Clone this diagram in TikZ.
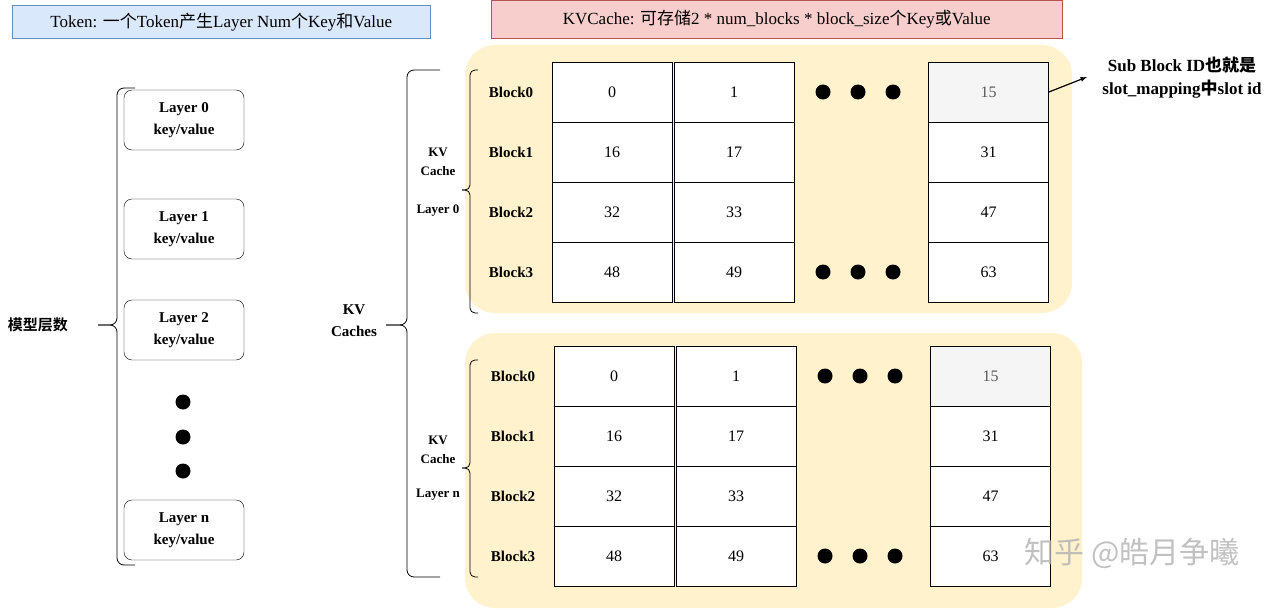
\documentclass[tikz,border=0pt]{standalone}
\usepackage{fontspec}
\setmainfont{Liberation Serif}
\newfontfamily\cjk{Noto Sans CJK SC}
\newfontfamily\cjkb{Noto Sans CJK SC Bold}
\begin{document}
\begin{tikzpicture}[x=1pt,y=-1pt,
 cell/.style={draw,thick,minimum width=120pt,minimum height=60pt,inner sep=0,font=\fontsize{16}{16}\selectfont},
 blab/.style={font=\bfseries\fontsize{15}{15}\selectfont},
 lay/.style={draw,rounded corners=8,minimum width=120pt,minimum height=60pt,align=center,font=\bfseries\fontsize{15}{22}\selectfont},
 dot/.style={circle,fill,inner sep=0,minimum size=15pt},
 br/.style={line width=0.8pt,rounded corners=7},
 lbl/.style={align=center,font=\bfseries\fontsize{15}{22}\selectfont}]
\useasboundingbox (0,0) rectangle (1288,610);
\definecolor{pan}{HTML}{FFF2CC}
\definecolor{bfill}{HTML}{DAE8FC}\definecolor{bline}{HTML}{6C8EBF}
\definecolor{rfill}{HTML}{F8CECC}\definecolor{rline}{HTML}{B85450}
% top boxes
\node[draw=bline,fill=bfill,minimum width=418pt,minimum height=33pt,anchor=north west,inner sep=0,font=\fontsize{17}{17}\selectfont] (tok) at (12,5) {Token: {\cjk 一个}Token{\cjk 产生}Layer Num{\cjk 个}Key{\cjk 和}Value};
\node[draw=rline,fill=rfill,minimum width=571pt,minimum height=38pt,anchor=north west,inner sep=0,font=\fontsize{17}{17}\selectfont] (kvc) at (491,0) {KVCache: {\cjk 可存储}2 * num\_blocks * block\_size{\cjk 个}Key{\cjk 或}Value};
% left brace
\draw[br] (135,88) -- (117,88) -- (117,325) -- (98,325);
\draw[br] (98,325) -- (117,325) -- (117,565) -- (135,565);
\node[font=\cjkb\fontsize{15}{15}\selectfont] (mx) at (38,325) {模型层数};
\node[lay] (l0) at (184,120) {Layer 0\\key/value};
\node[lay] (l1) at (184,229) {Layer 1\\key/value};
\node[lay] (l2) at (184,330) {Layer 2\\key/value};
\node[lay] (ln) at (184,530) {Layer n\\key/value};
\node[dot] (d1) at (183,402) {};
\node[dot] (d2) at (183,437) {};
\node[dot] (d3) at (183,471) {};
% middle brace
\node[lbl] (kvs) at (354,321) {KV\\Caches};
\draw[br] (440,70) -- (407,70) -- (407,325) -- (386,325);
\draw[br] (386,325) -- (407,325) -- (407,577) -- (440,577);
% panels
\fill[pan,rounded corners=30] (465,45) rectangle (1072,313);
\fill[pan,rounded corners=30] (465,333) rectangle (1082,608);
% small braces
\draw[br,rounded corners=5] (478,70) -- (470,70) -- (470,190) -- (462,190);
\draw[br,rounded corners=5] (462,190) -- (470,190) -- (470,313) -- (478,313);
\draw[br,rounded corners=5] (478,360) -- (470,360) -- (470,468) -- (462,468);
\draw[br,rounded corners=5] (462,468) -- (470,468) -- (470,577) -- (478,577);
\node[lbl,font=\bfseries\fontsize{13}{19}\selectfont] (c0) at (438,162) {KV\\Cache};
\node[lbl,font=\bfseries\fontsize{13}{13}\selectfont] (c0l) at (438,211) {Layer 0};
\node[lbl,font=\bfseries\fontsize{13}{19}\selectfont] (cn) at (438,450) {KV\\Cache};
\node[lbl,font=\bfseries\fontsize{13}{13}\selectfont] (cnl) at (438,495) {Layer n};
% grids
\foreach \r/\a/\b/\c [count=\i from 0] in {0/0/1/15,1/16/17/31,2/32/33/47,3/48/49/63}{
  \node[blab] (tb\i) at (511,92+60*\r) {Block\r};
  \node[cell,fill=white] (ta\i) at (612,92+60*\r) {\a};
  \node[cell,fill=white] (tbb\i) at (734,92+60*\r) {\b};
  \node[cell,fill=white] (tc\i) at (988.5,92+60*\r) {\c};
  \node[blab] (bb\i) at (513,376+60*\r) {Block\r};
  \node[cell,fill=white] (ba\i) at (614,376+60*\r) {\a};
  \node[cell,fill=white] (bbb\i) at (736,376+60*\r) {\b};
  \node[cell,fill=white] (bc\i) at (990.5,376+60*\r) {\c};
}
\node[cell,fill=gray!8,text=gray!70!black] (tc15) at (988.5,92) {15};
\node[cell,fill=gray!8,text=gray!70!black] (bc15) at (990.5,376) {15};
\foreach \y/\dx/\n in {92/823/a,272/823/b,376/825/c,556/825/d}{
  \node[dot] (\n1) at (\dx,\y) {};
  \node[dot] (\n2) at (\dx+35,\y) {};
  \node[dot] (\n3) at (\dx+70,\y) {};
}
% annotation
\node[lbl,font=\bfseries\fontsize{17}{23}\selectfont] (sub) at (1182,78) {Sub Block ID{\cjkb 也就是}\\slot\_mapping{\cjkb 中}slot id};
\draw[-latex,line width=1.2pt] (tc15.east) -- (1087,77);
% watermark
\node[text=gray!60,opacity=0.8,font=\cjk\fontsize{30}{30}\selectfont] (wm) at (1132,553) {知乎 @皓月争曦};
\end{tikzpicture}
\end{document}
